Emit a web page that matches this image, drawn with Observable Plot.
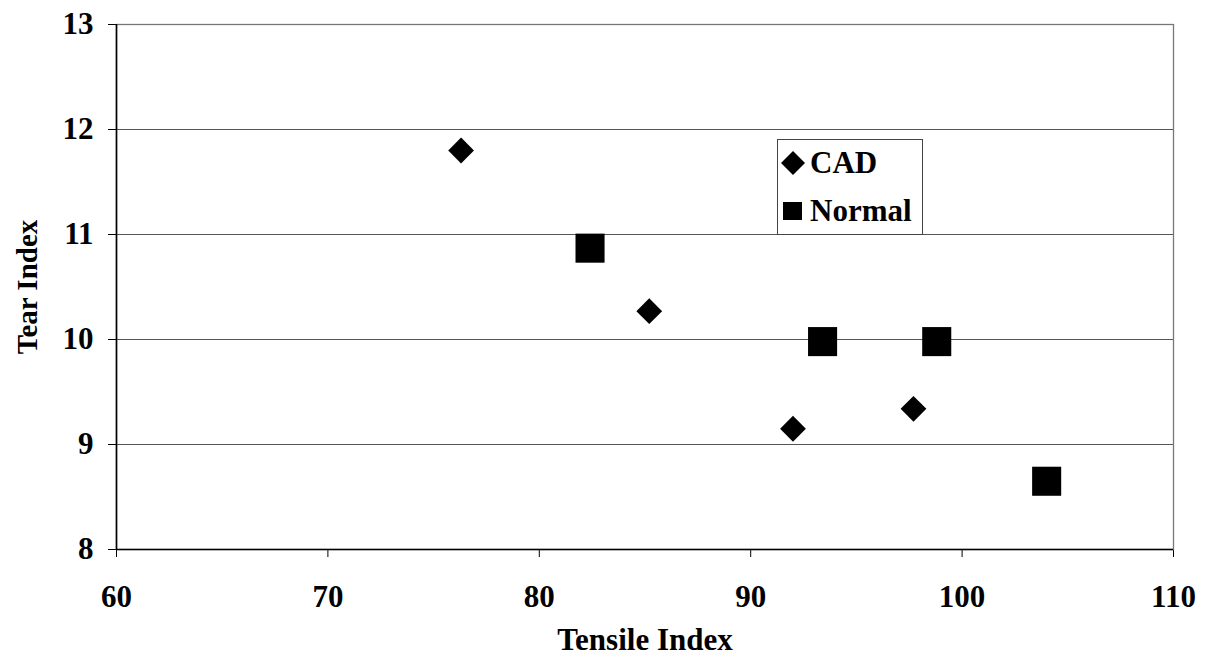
<!DOCTYPE html>
<html>
<head>
<meta charset="utf-8">
<script src="https://cdn.jsdelivr.net/npm/d3@7"></script>
<script src="https://cdn.jsdelivr.net/npm/@observablehq/plot@0.6"></script>
<style>
  html, body { margin: 0; padding: 0; background: #fff; }
  #wrap { position: relative; width: 1208px; height: 662px; }
  #legend {
    position: absolute; left: 777px; top: 139px; width: 146px; height: 96px;
    border: 1px solid #444; background: #fff; box-sizing: border-box;
    font-family: "Liberation Serif", "Times New Roman", serif; font-weight: bold; font-size: 31px; color: #000;
  }
  #legend .row { position: absolute; left: 2px; display: flex; align-items: center; white-space: nowrap; line-height: 1; }
  #legend svg { display: block; margin-right: 4px; }
</style>
</head>
<body>
<div id="wrap"></div>
<script>
const cadTensile = [76.3, 85.2, 92.0, 97.7];
const cadTear = [11.8, 10.27, 9.15, 9.34];
const normalTensile = [82.4, 93.4, 98.8, 104.0];
const normalTear = [10.87, 9.98, 9.98, 8.65];
const xTicks = [60, 70, 80, 90, 100, 110];
const yTicks = [8, 9, 10, 11, 12, 13];
const gridValues = [9, 10, 11, 12];

const cad = cadTensile.map((x, i) => ({x, y: cadTear[i]}));
const normal = normalTensile.map((x, i) => ({x, y: normalTear[i]}));

const font = "'Liberation Serif', 'Times New Roman', serif";

const chart = Plot.plot({
  width: 1208,
  height: 662,
  marginLeft: 116,
  marginRight: 35,
  marginTop: 24,
  marginBottom: 113,
  style: {fontFamily: font, fontWeight: "bold", fontSize: "31px", color: "#000", background: "#fff"},
  x: {domain: [60, 110], ticks: xTicks, tickFormat: "d", tickSize: 8, tickPadding: 27, label: null},
  y: {domain: [8, 13], ticks: yTicks, tickFormat: "d", tickSize: 8, tickPadding: 15, label: null},
  marks: [
    Plot.ruleY(gridValues, {stroke: "#555", strokeWidth: 1.2}),
    Plot.frame({stroke: "#777", strokeWidth: 1.3}),
    Plot.ruleX([60], {stroke: "#000", strokeWidth: 1.6}),
    Plot.ruleY([8], {stroke: "#000", strokeWidth: 1.6}),
    Plot.dot(normal, {x: "x", y: "y", symbol: "square", r: 16.4, fill: "#000", stroke: "none"}),
    Plot.dot(cad, {x: "x", y: "y", symbol: "diamond2", r: 11.6, fill: "#000", stroke: "none"}),
    Plot.text(["Tensile Index"], {frameAnchor: "bottom", textAnchor: "middle", lineAnchor: "middle", dy: 91, fontSize: 31, fontWeight: "bold", fill: "#000"}),
    Plot.text(["Tear Index"], {frameAnchor: "left", textAnchor: "middle", lineAnchor: "middle", dx: -89, rotate: -90, fontSize: 29, fontWeight: "bold", fill: "#000"})
  ]
});

const wrap = document.getElementById("wrap");
wrap.appendChild(chart);

const legend = document.createElement("div");
legend.id = "legend";
legend.innerHTML = `
  <div class="row" style="top:7px"><svg width="26" height="26" viewBox="-13 -13 26 26"><path d="M0,-12L12,0L0,12L-12,0Z" fill="#000"/></svg><span>CAD</span></div>
  <div class="row" style="top:55px"><svg width="26" height="26" viewBox="-13 -13 26 26"><rect x="-10" y="-9" width="19" height="18" fill="#000"/></svg><span>Normal</span></div>`;
wrap.appendChild(legend);
</script>
</body>
</html>
